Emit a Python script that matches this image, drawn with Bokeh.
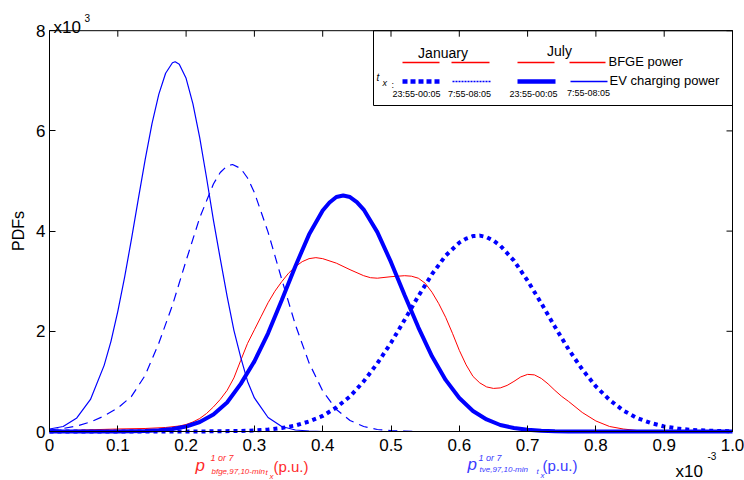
from bokeh.plotting import figure
from bokeh.models import Range1d, FixedTicker, Label, BoxAnnotation, LinearAxis
from bokeh.embed import file_html
from bokeh.resources import INLINE

# ---------------- data (x in 1e-3 p.u., PDF in 1e3) ----------------
x_ticks = [0, 0.1, 0.2, 0.3, 0.4, 0.5, 0.6, 0.7, 0.8, 0.9, 1.0]
x_tick_labels = ["0", "0.1", "0.2", "0.3", "0.4", "0.5", "0.6", "0.7", "0.8", "0.9", "1.0"]
y_ticks = [0, 2, 4, 6, 8]
y_tick_labels = ["0", "2", "4", "6", "8"]

# EV charging power, July 7:55-08:05 (thin solid)
ev_jul_am_x = [0, 0.02, 0.04, 0.06, 0.08, 0.09, 0.10, 0.11, 0.12, 0.13, 0.14, 0.15, 0.16, 0.17,
               0.18, 0.184, 0.19, 0.20, 0.21, 0.22, 0.23, 0.24, 0.25, 0.26, 0.27, 0.28, 0.29,
               0.30, 0.32, 0.34, 0.36, 0.38, 0.40, 0.50, 1.0]
ev_jul_am_y = [0.05, 0.10, 0.27, 0.64, 1.32, 1.80, 2.40, 3.08, 3.84, 4.64, 5.42, 6.14, 6.73, 7.15,
               7.36, 7.38, 7.33, 7.05, 6.54, 5.86, 5.06, 4.22, 3.45, 2.70, 2.02, 1.48, 1.00,
               0.67, 0.28, 0.10, 0.03, 0.01, 0.0, 0.0, 0.0]

# EV charging power, January 7:55-08:05 (thin dashed)
ev_jan_am_x = [0, 0.02, 0.04, 0.06, 0.08, 0.10, 0.12, 0.14, 0.16, 0.18, 0.20, 0.22, 0.24, 0.25,
               0.26, 0.268, 0.28, 0.29, 0.30, 0.32, 0.34, 0.36, 0.38, 0.40, 0.42, 0.44, 0.46,
               0.48, 0.50, 0.52, 0.54, 1.0]
ev_jan_am_y = [0.03, 0.06, 0.11, 0.19, 0.31, 0.47, 0.70, 1.12, 1.76, 2.52, 3.41, 4.27, 4.94, 5.17,
               5.30, 5.33, 5.25, 5.06, 4.77, 3.98, 3.04, 2.13, 1.37, 0.81, 0.44, 0.22, 0.10,
               0.04, 0.02, 0.01, 0.0, 0.0]

# EV charging power, July 23:55-00:05 (thick solid)
ev_jul_pm_x = [0, 0.10, 0.12, 0.14, 0.16, 0.18, 0.20, 0.22, 0.24, 0.26, 0.28, 0.30, 0.32, 0.34,
               0.36, 0.38, 0.40, 0.41, 0.42, 0.43, 0.44, 0.45, 0.46, 0.48, 0.50, 0.52, 0.54,
               0.56, 0.58, 0.60, 0.62, 0.64, 0.66, 0.68, 0.70, 0.72, 0.74, 0.76, 1.0]
ev_jul_pm_y = [0.0, 0.0, 0.005, 0.01, 0.025, 0.05, 0.10, 0.19, 0.34, 0.58, 0.95, 1.40, 1.96, 2.62,
               3.30, 3.93, 4.41, 4.57, 4.68, 4.71, 4.68, 4.58, 4.43, 3.98, 3.38, 2.72, 2.08,
               1.50, 1.03, 0.67, 0.41, 0.24, 0.13, 0.07, 0.035, 0.015, 0.006, 0.0, 0.0]

# EV charging power, January 23:55-00:05 (thick dotted)
ev_jan_pm_x = [0, 0.20, 0.24, 0.28, 0.30, 0.32, 0.34, 0.36, 0.38, 0.40, 0.42, 0.44, 0.46, 0.48,
               0.50, 0.52, 0.54, 0.56, 0.58, 0.60, 0.61, 0.62, 0.63, 0.64, 0.65, 0.66, 0.68,
               0.70, 0.72, 0.74, 0.76, 0.78, 0.80, 0.82, 0.84, 0.86, 0.88, 0.90, 0.92, 0.94,
               0.96, 0.98, 1.0]
ev_jan_pm_y = [0.0, 0.0, 0.003, 0.011, 0.021, 0.038, 0.069, 0.12, 0.20, 0.31, 0.48, 0.70, 1.00, 1.36,
               1.77, 2.23, 2.70, 3.14, 3.51, 3.77, 3.85, 3.90, 3.91, 3.88, 3.81, 3.71, 3.41,
               3.01, 2.56, 2.09, 1.64, 1.24, 0.90, 0.63, 0.42, 0.27, 0.17, 0.10, 0.06, 0.03,
               0.02, 0.01, 0.005]

# BFGE power (thin red)
bfge_x = [0, 0.02, 0.05, 0.10, 0.14, 0.17, 0.19, 0.20, 0.21, 0.22, 0.23, 0.24, 0.25, 0.26, 0.27,
          0.28, 0.29, 0.30, 0.31, 0.32, 0.33, 0.34, 0.35, 0.36, 0.37, 0.38, 0.39, 0.40, 0.42,
          0.44, 0.46, 0.47, 0.48, 0.50, 0.52, 0.53, 0.54, 0.55, 0.56, 0.57, 0.58, 0.59, 0.60,
          0.61, 0.62, 0.63, 0.64, 0.65, 0.66, 0.67, 0.68, 0.69, 0.70, 0.71, 0.72, 0.73, 0.74,
          0.75, 0.76, 0.78, 0.80, 0.82, 0.84, 0.86, 0.88, 0.90, 1.0]
bfge_y = [0.0, 0.01, 0.03, 0.05, 0.06, 0.08, 0.11, 0.14, 0.19, 0.26, 0.36, 0.49, 0.64, 0.82, 1.07,
          1.42, 1.76, 2.03, 2.30, 2.57, 2.80, 2.99, 3.16, 3.29, 3.39, 3.45, 3.47, 3.45, 3.36,
          3.23, 3.11, 3.07, 3.06, 3.09, 3.11, 3.10, 3.06, 2.96, 2.78, 2.55, 2.28, 1.96, 1.62,
          1.33, 1.10, 0.97, 0.89, 0.86, 0.87, 0.92, 1.00, 1.09, 1.14, 1.13, 1.06, 0.95, 0.82,
          0.70, 0.60, 0.38, 0.21, 0.10, 0.05, 0.02, 0.01, 0.0, 0.0]

BLUE = "#0000ff"
RED = "#ff0000"
FONT = "Liberation Sans"

# layout: data box [0,1]x[0,8] occupies pixels x 49..732, y 30..431 of a 744x480 canvas
PX_PER_X = 683.0
PX_PER_Y = 50.1

def X(px):
    return (px - 49) / PX_PER_X

def Y(py):
    return (431 - py) / PX_PER_Y

p = figure(width=744, height=480,
           x_range=Range1d(X(0), X(744)), y_range=Range1d(Y(480), Y(0)),
           output_backend="svg", toolbar_location=None,
           x_axis_location=None, y_axis_location=None,
           min_border_left=0, min_border_right=0, min_border_top=0, min_border_bottom=0)
p.grid.visible = False
p.outline_line_color = None
p.background_fill_color = "white"
p.border_fill_color = "white"

xax = LinearAxis(ticker=FixedTicker(ticks=x_ticks), fixed_location=0, bounds=(0, 1))
yax = LinearAxis(ticker=FixedTicker(ticks=y_ticks), fixed_location=0, bounds=(0, 8))
xax.major_label_overrides = {t: l for t, l in zip(x_ticks, x_tick_labels)}
yax.major_label_overrides = {t: l for t, l in zip(y_ticks, y_tick_labels)}
for ax in (xax, yax):
    ax.major_label_text_font = FONT
    ax.major_label_text_font_size = "17px"
    ax.major_label_text_color = "black"
    ax.major_tick_in = 6
    ax.major_tick_out = 0
    ax.minor_tick_line_color = None
    ax.axis_line_color = "black"
    ax.major_tick_line_color = "black"
    ax.major_label_standoff = 4
xax.major_label_standoff = 7
yax.axis_label = "PDFs"
yax.axis_label_text_font = FONT
yax.axis_label_text_font_size = "16px"
yax.axis_label_text_font_style = "normal"
yax.axis_label_text_color = "black"
yax.axis_label_standoff = 6
p.add_layout(xax, "below")
p.add_layout(yax, "left")

# frame box around the data area
frame = BoxAnnotation(left=0, right=1, bottom=0, top=8, fill_alpha=0,
                      line_color="black", line_alpha=1.0, line_width=1)
p.add_layout(frame)

# mirrored tick marks on the top and right edges
tick_len_y = 6 / PX_PER_Y
tick_len_x = 6 / PX_PER_X
p.segment(x0=x_ticks, x1=x_ticks, y0=[8] * len(x_ticks), y1=[8 - tick_len_y] * len(x_ticks),
          line_color="black", line_width=1)
p.segment(x0=[1.0] * len(y_ticks), x1=[1.0 - tick_len_x] * len(y_ticks), y0=y_ticks, y1=y_ticks,
          line_color="black", line_width=1)

# curves
p.line(ev_jan_pm_x, ev_jan_pm_y, line_color=BLUE, line_width=4, line_dash="4 4")
p.line(bfge_x, bfge_y, line_color=RED, line_width=1)
p.line(ev_jan_am_x, ev_jan_am_y, line_color=BLUE, line_width=1.2, line_dash="9 6")
p.line(ev_jul_am_x, ev_jul_am_y, line_color=BLUE, line_width=1.2)
p.line(ev_jul_pm_x, ev_jul_pm_y, line_color=BLUE, line_width=4)

# legend box
box = BoxAnnotation(left=X(373), right=1.0, top=8, bottom=Y(105), fill_color="white",
                    fill_alpha=1.0, line_color="black", line_alpha=1.0, line_width=1,
                    level="underlay")
p.add_layout(box)

def seg(x0, x1, y, **kw):
    p.line([X(x0), X(x1)], [Y(y), Y(y)], **kw)

for a, b in [(402, 439), (451, 489), (517, 554), (569, 605)]:
    seg(a, b, 62, line_color=RED, line_width=1.3)
seg(402, 439, 81, line_color=BLUE, line_width=4.5, line_dash="5 3")
seg(452, 490, 81, line_color=BLUE, line_width=1.5, line_dash="2 1")
seg(517, 555, 81, line_color=BLUE, line_width=4.5)
seg(570, 607, 81, line_color=BLUE, line_width=1.3)

def lab(px, py, text, size, color="black", align="left", baseline="middle", style="normal"):
    p.add_layout(Label(x=X(px), y=Y(py), text=text, text_font=FONT, text_font_size=size,
                       text_color=color, text_align=align, text_baseline=baseline,
                       text_font_style=style))

lab(442.5, 52, "January", "14px", align="center")
lab(559, 50, "July", "14px", align="center")
lab(608, 61, "BFGE power", "13px")
lab(609, 80, "EV charging power", "13px")
lab(376, 77, "t", "10px", style="italic")
lab(382, 82, "x", "9px", style="italic")
lab(391, 84, ":", "9px")
lab(416, 93, "23:55-00:05", "9px", align="center")
lab(469, 93, "7:55-08:05", "9px", align="center")
lab(533, 93, "23:55-00:05", "9px", align="center")
lab(588, 92, "7:55-08:05", "9px", align="center")

# exponent labels
lab(53, 27, "x10", "17px", baseline="alphabetic")
lab(84, 17, "3", "10px", baseline="alphabetic")
lab(675, 471, "x10", "17px", baseline="alphabetic")
lab(707, 455, "-3", "10px", baseline="alphabetic")

# x-axis quantity labels
RED_T = "#ff2a2a"
BLUE_T = "#3a3aff"
lab(195, 465, "p", "17px", color=RED_T, baseline="alphabetic", style="italic")
lab(210, 457, "1 or 7", "9px", color=RED_T, baseline="alphabetic", style="italic")
lab(211, 471, "bfge,97,10-min", "8px", color=RED_T, baseline="alphabetic", style="italic")
lab(265, 472, "t", "8px", color=RED_T, baseline="alphabetic", style="italic")
lab(269, 476, "x", "8px", color=RED_T, baseline="alphabetic", style="italic")
lab(273, 466, "(p.u.)", "15px", color=RED_T, baseline="alphabetic")

lab(467, 464, "p", "17px", color=BLUE_T, baseline="alphabetic", style="italic")
lab(478, 457, "1 or 7", "9px", color=BLUE_T, baseline="alphabetic", style="italic")
lab(479, 469, "tve,97,10-min", "8px", color=BLUE_T, baseline="alphabetic", style="italic")
lab(536, 471, "t", "8px", color=BLUE_T, baseline="alphabetic", style="italic")
lab(540, 475, "x", "8px", color=BLUE_T, baseline="alphabetic", style="italic")
lab(542, 465, "(p.u.)", "15px", color=BLUE_T, baseline="alphabetic")

open("out.html", "w").write(file_html(p, INLINE))
